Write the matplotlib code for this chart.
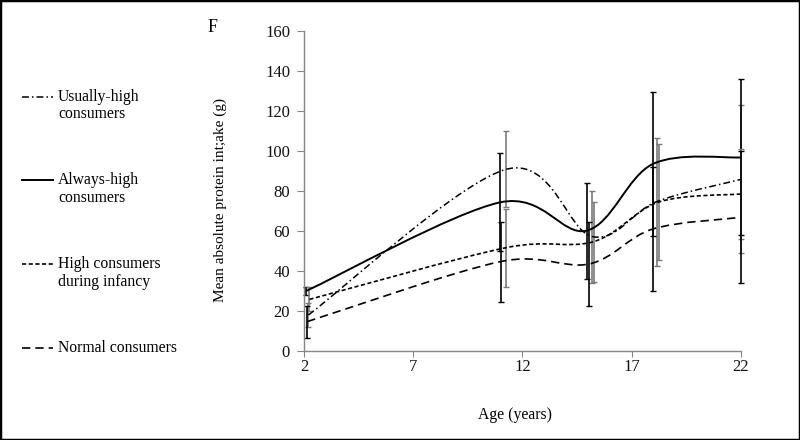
import matplotlib
matplotlib.use('Agg')
import matplotlib.pyplot as plt
from matplotlib.path import Path
from matplotlib.patches import PathPatch, Rectangle
from matplotlib.lines import Line2D
import numpy as np

plt.rcParams['font.family'] = ['Liberation Serif', 'DejaVu Serif']

# 数据
usual_age = [2.2, 11.24, 15.2, 18.15, 22.0]
usual_mean = [18.0, 90.8, 57.2, 74.7, 85.8]
usual_err = [6, 19, 23, 32, 37]

always_age = [2.1, 10.97, 14.95, 17.97, 22.0]
always_mean = [30.0, 74.3, 60.2, 93.5, 96.8]
always_err = [2, 24.5, 24, 36, 39]

infancy_age = [2.25, 11.27, 15.27, 18.25, 22.0]
infancy_mean = [25.8, 51.7, 54.7, 74.5, 78.5]
infancy_err = [6, 19.5, 20, 29, 22.5]

normal_age = [2.15, 11.0, 15.05, 17.97, 22.0]
normal_mean = [14.7, 44.7, 43.5, 61.0, 66.8]
normal_err = [8, 20, 21, 31, 33]

x_ticks = [2, 7, 12, 17, 22]
y_ticks = [0, 20, 40, 60, 80, 100, 120, 140, 160]

AXIS_GRAY = '#868686'
BAR_GRAY = '#7a7a7a'


def smooth_path(ax, xs, ys):
    """Excel风格的平滑曲线（三次贝塞尔），在屏幕坐标中计算控制点"""
    pts = ax.transData.transform(np.column_stack([xs, ys]))
    n = len(pts)
    verts = [pts[0]]
    codes = [Path.MOVETO]
    for i in range(n - 1):
        p0 = pts[max(i - 1, 0)]
        p1 = pts[i]
        p2 = pts[i + 1]
        p3 = pts[min(i + 2, n - 1)]
        d12 = np.hypot(*(p2 - p1))
        d02 = np.hypot(*(p2 - p0))
        d13 = np.hypot(*(p3 - p1))
        f0 = min(1 / 6, d12 / (2 * d02)) if d02 > 0 else 0
        f3 = min(1 / 6, d12 / (2 * d13)) if d13 > 0 else 0
        c1 = p1 + f0 * (p2 - p0)
        c2 = p2 - f3 * (p3 - p1)
        verts += [c1, c2, p2]
        codes += [Path.CURVE4] * 3
    verts = ax.transData.inverted().transform(np.array(verts))
    return Path(verts, codes)


fig = plt.figure(figsize=(8, 4.4), dpi=100)
ax = fig.add_axes([0.38, 0.2023, 0.546, 0.7272])
ax.set_xlim(2, 22)
ax.set_ylim(0, 160)

series = [
    (usual_age, usual_mean, usual_err, (0, (4.5, 2, 1, 2)), 1.1, BAR_GRAY),
    (always_age, always_mean, always_err, '-', 1.4, 'black'),
    (infancy_age, infancy_mean, infancy_err, (0, (2.5, 1.5)), 1.2, BAR_GRAY),
    (normal_age, normal_mean, normal_err, (0, (5, 3)), 1.2, 'black'),
]

# 误差线
for ages, means, errs, ls, lw, ecol in series:
    ax.errorbar(ages, means, yerr=errs, fmt='none', ecolor=ecol,
                elinewidth=1.2, capsize=2.5, capthick=1, clip_on=False, zorder=2)

# 平滑曲线
for ages, means, errs, ls, lw, ecol in series:
    path = smooth_path(ax, ages, means)
    ax.add_patch(PathPatch(path, fill=False, edgecolor='black', linewidth=lw,
                           linestyle=ls, clip_on=False, zorder=3))

for side in ['top', 'right']:
    ax.spines[side].set_visible(False)
for side in ['left', 'bottom']:
    ax.spines[side].set_color(AXIS_GRAY)
    ax.spines[side].set_linewidth(1)

ax.set_xticks(x_ticks)
ax.set_yticks(y_ticks)
ax.tick_params(axis='both', direction='out', color=AXIS_GRAY, labelsize=12, labelcolor='#111111')
ax.tick_params(axis='x', length=4, pad=2)
ax.tick_params(axis='y', length=5, pad=5)

# 坐标轴标题与面板标签
fig.text(220 / 800, 1 - 200 / 440, 'Mean absolute protein int;ake (g)', rotation=90,
         ha='center', va='center', fontsize=11)
fig.text(515 / 800, 1 - 415 / 440, 'Age (years)', ha='center', va='center', fontsize=11.3)
fig.text(213 / 800, 1 - 27 / 440, 'F', ha='center', va='center', fontsize=13)

# 左侧自定义图例
legend_items = [
    ('Usually-high', 'consumers', (0, (4.5, 2, 1, 2)), 1.1, 97),
    ('Always-high', 'consumers', '-', 1.4, 180),
    ('High consumers', 'during infancy', (0, (2.5, 1.5)), 1.2, 264),
    ('Normal consumers', None, (0, (5, 3)), 1.2, 348),
]
for line1, line2, ls, lw, ypx in legend_items:
    y = 1 - ypx / 440
    fig.add_artist(Line2D([22 / 800, 53 / 800], [y, y], transform=fig.transFigure,
                          color='black', linestyle=ls, linewidth=lw))
    fig.text(58 / 800, y, line1, ha='left', va='center', fontsize=11.3)
    if line2:
        fig.text(58 / 800, y - 17.5 / 440, line2, ha='left', va='center', fontsize=11.3)

# 外框
fig.add_artist(Rectangle((0, 0), 1, 1, transform=fig.transFigure, fill=False,
                         edgecolor='black', linewidth=2.5))

plt.savefig('out.png', dpi=100)
